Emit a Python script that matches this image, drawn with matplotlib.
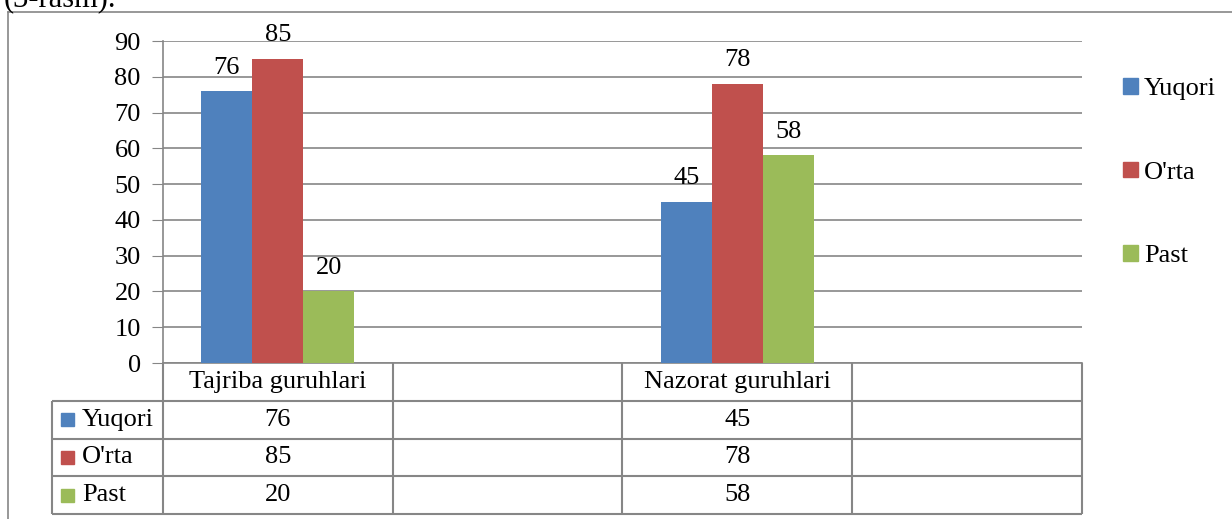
import numpy as np
import matplotlib.pyplot as plt
from matplotlib.lines import Line2D
from matplotlib.patches import Rectangle

plt.rcParams['font.family'] = ['Liberation Serif', 'DejaVu Serif']

categories = ['Tajriba guruhlari', '', 'Nazorat guruhlari', '']
series = ['Yuqori', "O'rta", 'Past']
yuqori = [76, None, 45, None]
orta = [85, None, 78, None]
past = [20, None, 58, None]
values = [yuqori, orta, past]
colors = ['#4F81BD', '#C0504D', '#9BBB59']
yticks = [0, 10, 20, 30, 40, 50, 60, 70, 80, 90]

W, H = 1232, 519
fig = plt.figure(figsize=(W / 100, H / 100), dpi=100)
grey = '#868686'
fs = 19


def px_box(x0, y0, x1, y1):
    # pixel box (top-left origin) -> figure fraction rect
    return [x0 / W, 1 - y1 / H, (x1 - x0) / W, (y1 - y0) / H]


# outer chart border (only top and left visible)
fig.add_artist(Line2D([8 / W, 8 / W], [0, 1 - 12 / H], color=grey, lw=1.2))
fig.add_artist(Line2D([8 / W, 1.01], [1 - 12 / H, 1 - 12 / H], color=grey, lw=1.2))
fig.text(4 / W, 1 - 6 / H, '(3-rasm).', fontsize=22, va='baseline', ha='left')

# main bar axes
ax = fig.add_axes(px_box(163, 41, 1082, 363))
n = len(categories)
x = np.arange(n)
w = 0.222
for i, (name, vals, c) in enumerate(zip(series, values, colors)):
    xs = [x[j] + (i - 1) * w for j in range(n) if vals[j] is not None]
    hs = [vals[j] for j in range(n) if vals[j] is not None]
    bars = ax.bar(xs, hs, width=w, color=c, label=name, zorder=3)
    ax.bar_label(bars, padding=9, fontsize=fs)

ax.set_xlim(-0.5, n - 0.5)
ax.set_ylim(0, 90)
ax.set_yticks(yticks)
ax.tick_params(axis='y', length=8, color=grey, labelsize=19, pad=8)
ax.set_xticks([])
ax.grid(axis='y', color=grey, lw=1.2, zorder=0)
for s in ['top', 'right']:
    ax.spines[s].set_visible(False)
for s in ['left', 'bottom']:
    ax.spines[s].set_color(grey)
    ax.spines[s].set_linewidth(1.2)

# legend on the right
handles = [Rectangle((0, 0), 1, 1, color=c) for c in colors]
fig.legend(handles, series, loc='upper left', bbox_to_anchor=(1123 / W, 1 - 78 / H),
           frameon=False, fontsize=fs, handlelength=0.55, handleheight=0.55,
           handletextpad=0.25, labelspacing=2.32, borderpad=0, borderaxespad=0)

# data table below
left_x = -0.5 - (163 - 52) / 230
tb = fig.add_axes(px_box(52, 363, 1082, 514))
tb.set_xlim(left_x, n - 0.5)
tb.set_ylim(len(series) + 1, 0)
tb.axis('off')
lw = 1.5
tb.hlines([1, 2, 3, 4], left_x, n - 0.5, color=grey, lw=lw, clip_on=False)
tb.vlines([left_x], 1, 4, color=grey, lw=lw, clip_on=False)
tb.vlines([j - 0.5 for j in range(n + 1)], 0, 4, color=grey, lw=lw, clip_on=False)
for j, cat in enumerate(categories):
    tb.text(j, 0.5, cat, ha='center', va='center', fontsize=fs)
for i, (name, vals, c) in enumerate(zip(series, values, colors)):
    row = i + 1.5
    tb.add_patch(Rectangle((left_x + 0.04, row - 0.17), 0.056, 0.34, color=c,
                           clip_on=False))
    tb.text(left_x + 0.13, row, name, ha='left', va='center', fontsize=fs)
    for j in range(n):
        if vals[j] is not None:
            tb.text(j, row, str(vals[j]), ha='center', va='center', fontsize=fs)

fig.savefig('out.png', dpi=100)
